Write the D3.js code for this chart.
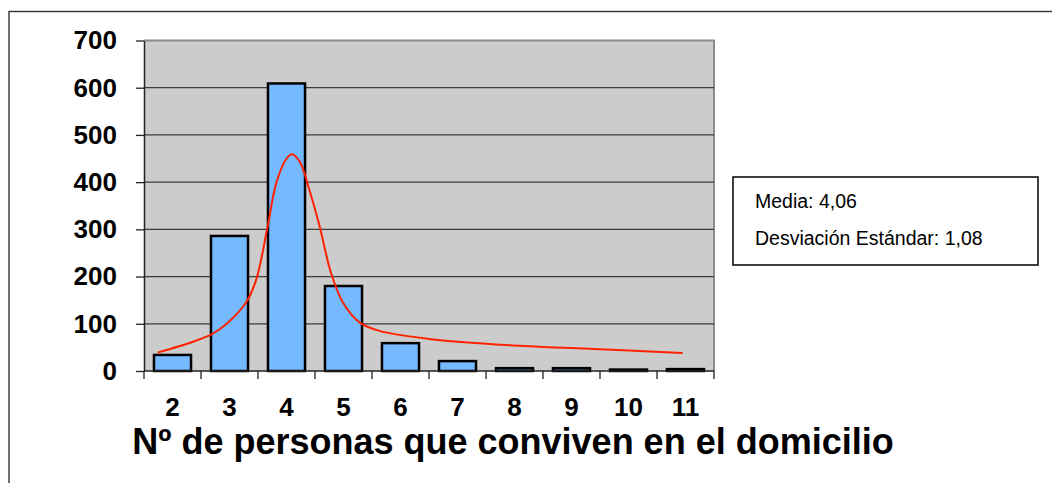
<!DOCTYPE html>
<html>
<head>
<meta charset="utf-8">
<script src="https://cdn.jsdelivr.net/npm/d3@7"></script>
<style>
  html, body { margin: 0; padding: 0; background: #ffffff; }
  svg { display: block; }
  text { font-family: "Liberation Sans", Arial, sans-serif; }
</style>
</head>
<body>
<svg id="chart" width="1052" height="483"></svg>
<script>
// Household size categories and counts
const categories = ["2", "3", "4", "5", "6", "7", "8", "9", "10", "11"];
const counts = [34, 286, 609, 180, 59, 21, 6, 6, 3, 4];
const yTicks = [0, 100, 200, 300, 400, 500, 600, 700];

// Smoothed distribution curve (x in household-size units, y in counts)
const curveX = [1.74, 2.36, 2.69, 2.95, 3.29, 3.47, 3.67, 3.82, 3.99, 4.09, 4.23, 4.40, 4.58, 4.78, 4.99, 5.28, 5.63, 6.5, 8.0, 9.3, 10.95];
const curveY = [39, 62, 78, 100, 145, 194, 307, 398, 448, 459, 444, 384, 307, 208, 145, 103, 85, 68, 54, 47, 38];

const statLines = ["Media: 4,06", "Desviación Estándar: 1,08"];
const axisTitle = "Nº de personas que conviven en el domicilio";

const svg = d3.select("#chart");

// Outer chart frame (extends past the right and bottom edges)
svg.append("rect")
  .attr("x", 9).attr("y", 11.5)
  .attr("width", 1100).attr("height", 600)
  .attr("fill", "#ffffff")
  .attr("stroke", "#333333").attr("stroke-width", 1.4);

const plot = { left: 144, right: 714, top: 40.5, bottom: 371 };

const x = d3.scaleBand().domain(categories).range([plot.left, plot.right]).padding(0);
const y = d3.scaleLinear().domain([0, 700]).range([plot.bottom, plot.top]);
const xc = d3.scaleLinear()
  .domain([2, 11])
  .range([x("2") + x.bandwidth() / 2, x("11") + x.bandwidth() / 2]);

// Plot background
svg.append("rect")
  .attr("x", plot.left).attr("y", plot.top)
  .attr("width", plot.right - plot.left).attr("height", plot.bottom - plot.top)
  .attr("fill", "#cccccc");

// Top and right plot border
svg.append("path")
  .attr("d", `M${plot.left},${plot.top}H${plot.right}V${plot.bottom}`)
  .attr("fill", "none").attr("stroke", "#8c8c8c").attr("stroke-width", 2);

// Horizontal gridlines
svg.append("g")
  .selectAll("line")
  .data(yTicks.filter(d => d > 0 && d < 700))
  .join("line")
  .attr("x1", plot.left).attr("x2", plot.right)
  .attr("y1", d => y(d)).attr("y2", d => y(d))
  .attr("stroke", "#3c3c3c").attr("stroke-width", 1.3);

// Bars
const barW = x.bandwidth() * 0.65;
svg.append("g")
  .selectAll("rect")
  .data(categories)
  .join("rect")
  .attr("x", d => x(d) + (x.bandwidth() - barW) / 2)
  .attr("y", (d, i) => y(counts[i]))
  .attr("width", barW)
  .attr("height", (d, i) => y(0) - y(counts[i]))
  .attr("fill", "#75b9ff")
  .attr("stroke", "#000000").attr("stroke-width", 2.5);

// Smoothed curve
const pts = curveX.map((v, i) => [v, curveY[i]]);
svg.append("path")
  .datum(pts)
  .attr("d", d3.line().x(d => xc(d[0])).y(d => y(d[1])).curve(d3.curveCatmullRom.alpha(0.5)))
  .attr("fill", "none")
  .attr("stroke", "#ff2200").attr("stroke-width", 2);

// Y axis
const yAxis = svg.append("g")
  .attr("transform", `translate(${plot.left},0)`)
  .call(d3.axisLeft(y).tickValues(yTicks).tickSize(8).tickPadding(19).tickSizeOuter(0));
yAxis.select(".domain").attr("stroke", "#222222").attr("stroke-width", 1.5);
yAxis.selectAll(".tick line").attr("stroke", "#222222").attr("stroke-width", 1.3);
yAxis.selectAll(".tick text")
  .attr("font-family", "'Liberation Sans', Arial, sans-serif")
  .attr("font-size", 26).attr("font-weight", "bold").attr("fill", "#000");

// X axis: ticks at category boundaries, labels at category centres
const xg = svg.append("g").attr("transform", `translate(0,${plot.bottom})`);
xg.append("line")
  .attr("x1", plot.left).attr("x2", plot.right)
  .attr("stroke", "#222222").attr("stroke-width", 1.5);
const bounds = categories.map(d => x(d)).concat([plot.right]);
xg.selectAll("line.tk")
  .data(bounds)
  .join("line").attr("class", "tk")
  .attr("x1", d => d).attr("x2", d => d)
  .attr("y1", 0).attr("y2", 8)
  .attr("stroke", "#222222").attr("stroke-width", 1.3);
xg.selectAll("text")
  .data(categories)
  .join("text")
  .attr("x", d => x(d) + x.bandwidth() / 2)
  .attr("y", 44.5)
  .attr("text-anchor", "middle")
  .attr("font-size", 26).attr("font-weight", "bold").attr("fill", "#000")
  .text(d => d);

// Axis title
svg.append("text")
  .attr("x", 513).attr("y", 454)
  .attr("text-anchor", "middle")
  .attr("font-size", 36).attr("font-weight", "bold").attr("fill", "#000")
  .text(axisTitle);

// Summary statistics box
const box = svg.append("g");
box.append("rect")
  .attr("x", 733).attr("y", 177)
  .attr("width", 305).attr("height", 88)
  .attr("fill", "#ffffff").attr("stroke", "#000000").attr("stroke-width", 1.5);
box.selectAll("text")
  .data(statLines)
  .join("text")
  .attr("x", 755)
  .attr("y", (d, i) => 208 + i * 37)
  .attr("font-size", 19.5).attr("fill", "#000")
  .text(d => d);
</script>
</body>
</html>
